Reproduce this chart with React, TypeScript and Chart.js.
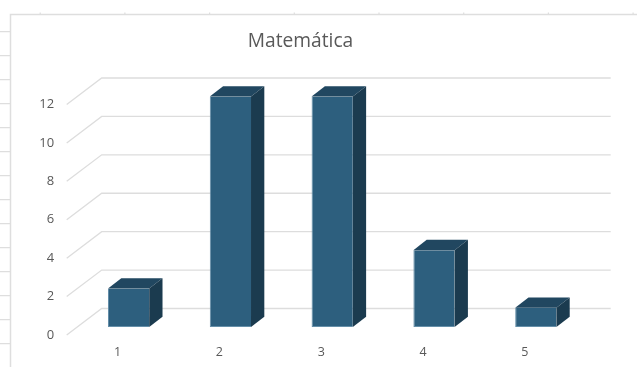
import React, { useEffect, useRef } from "react";
import { Chart, registerables } from "chart.js";

Chart.register(...registerables);

const categories = ["1", "2", "3", "4", "5"];
const values = [2, 12, 12, 4, 1];
const seriesName = "Matemática";
const yTicks = [0, 2, 4, 6, 8, 10, 12];

const FONT = '"Open Sans", "Noto Sans", sans-serif';
const TEXT = "#595959";
const GRID = "#dddddd";
const FRONT = "#2d5f7e";
const TOP = "#214760";
const SIDE = "#1b3b4f";
const SHEET = "#dedede";

// projection of the chart's depth axis, in canvas pixels
const WALL_DX = 35;
const WALL_DY = -26.5;
const BAR_OFF_X = 11;
const BAR_OFF_Y = -8;
const BAR_DX = 13.3;
const BAR_DY = -10.3;
const TITLE_SHIFT = 25.3;

const sheetPlugin = {
  id: "sheet",
  beforeDraw(chart: any) {
    const { ctx } = chart;
    ctx.save();
    ctx.strokeStyle = SHEET;
    ctx.lineWidth = 1.5;
    ctx.beginPath();
    ctx.moveTo(10.5, 367);
    ctx.lineTo(10.5, 14.5);
    ctx.lineTo(637, 14.5);
    ctx.stroke();
    ctx.lineWidth = 1.2;
    ctx.beginPath();
    for (let y = 31.7; y < 367; y += 24) {
      ctx.moveTo(0, y);
      ctx.lineTo(10, y);
    }
    for (let x = 40.2; x < 637; x += 84.7) {
      ctx.moveTo(x, 12.5);
      ctx.lineTo(x, 14);
    }
    ctx.stroke();
    ctx.restore();
  },
};

const wallPlugin = {
  id: "wall",
  afterLayout(chart: any) {
    if (chart.titleBlock) {
      chart.titleBlock.right += TITLE_SHIFT;
    }
  },
  beforeDatasetsDraw(chart: any) {
    const { ctx, chartArea, scales } = chart;
    ctx.save();
    ctx.strokeStyle = GRID;
    ctx.lineWidth = 1.3;
    for (const v of yTicks) {
      const y = scales.y.getPixelForValue(v);
      ctx.beginPath();
      ctx.moveTo(chartArea.left, y);
      ctx.lineTo(chartArea.left + WALL_DX, y + WALL_DY);
      ctx.lineTo(chartArea.right + WALL_DX, y + WALL_DY);
      ctx.stroke();
    }
    ctx.restore();
    ctx.save();
    ctx.translate(BAR_OFF_X, BAR_OFF_Y);
  },
  afterDatasetsDraw(chart: any) {
    const { ctx } = chart;
    const bars = chart.getDatasetMeta(0).data;
    for (const bar of bars) {
      const p = bar.getProps(["x", "y", "base", "width"], true);
      const l = p.x - p.width / 2;
      const r = p.x + p.width / 2;
      ctx.fillStyle = TOP;
      ctx.beginPath();
      ctx.moveTo(l, p.y);
      ctx.lineTo(l + BAR_DX, p.y + BAR_DY);
      ctx.lineTo(r + BAR_DX, p.y + BAR_DY);
      ctx.lineTo(r, p.y);
      ctx.closePath();
      ctx.fill();
      ctx.fillStyle = SIDE;
      ctx.beginPath();
      ctx.moveTo(r, p.y);
      ctx.lineTo(r + BAR_DX, p.y + BAR_DY);
      ctx.lineTo(r + BAR_DX, p.base + BAR_DY);
      ctx.lineTo(r, p.base);
      ctx.closePath();
      ctx.fill();
    }
    ctx.restore();
  },
};

export default function App() {
  const ref = useRef<HTMLCanvasElement>(null);
  useEffect(() => {
    document.body.style.margin = "0";
    document.body.style.background = "#ffffff";
    const chart = new Chart(ref.current!, {
      type: "bar",
      data: {
        labels: categories,
        datasets: [
          {
            label: seriesName,
            data: values,
            backgroundColor: FRONT,
            borderColor: "#658fa9",
            borderWidth: { left: 1, bottom: 1, right: 0, top: 0 },
            borderSkipped: false,
            barPercentage: 0.405,
            categoryPercentage: 1,
            clip: false,
          } as any,
        ],
      },
      plugins: [sheetPlugin, wallPlugin],
      options: {
        responsive: false,
        animation: false,
        devicePixelRatio: 1,
        layout: { padding: { left: 0, right: 61.3, top: 0, bottom: 0 } },
        plugins: {
          legend: { display: false },
          tooltip: { enabled: false },
          title: {
            display: true,
            text: seriesName,
            color: TEXT,
            font: { family: FONT, size: 19.2, weight: "normal", lineHeight: 1.25 },
            padding: { top: 30, bottom: 50.5 },
          },
        },
        scales: {
          x: {
            afterFit(axis: any) {
              axis.height = 32;
            },
            grid: { display: false, drawTicks: false },
            border: { display: false },
            ticks: {
              color: TEXT,
              font: { family: FONT, size: 12.5 },
              padding: 10,
              maxRotation: 0,
            },
          },
          y: {
            min: 0,
            max: 12,
            afterFit(axis: any) {
              axis.width = 66.7;
            },
            afterBuildTicks(axis: any) {
              axis.ticks = yTicks.map((value) => ({ value }));
            },
            grid: { display: false, drawTicks: false },
            border: { display: false },
            ticks: {
              color: TEXT,
              font: { family: FONT, size: 13 },
              padding: 12.5,
            },
          },
        },
      },
    } as any);
    return () => chart.destroy();
  }, []);
  return <canvas ref={ref} width={637} height={367} style={{ display: "block" }} />;
}
